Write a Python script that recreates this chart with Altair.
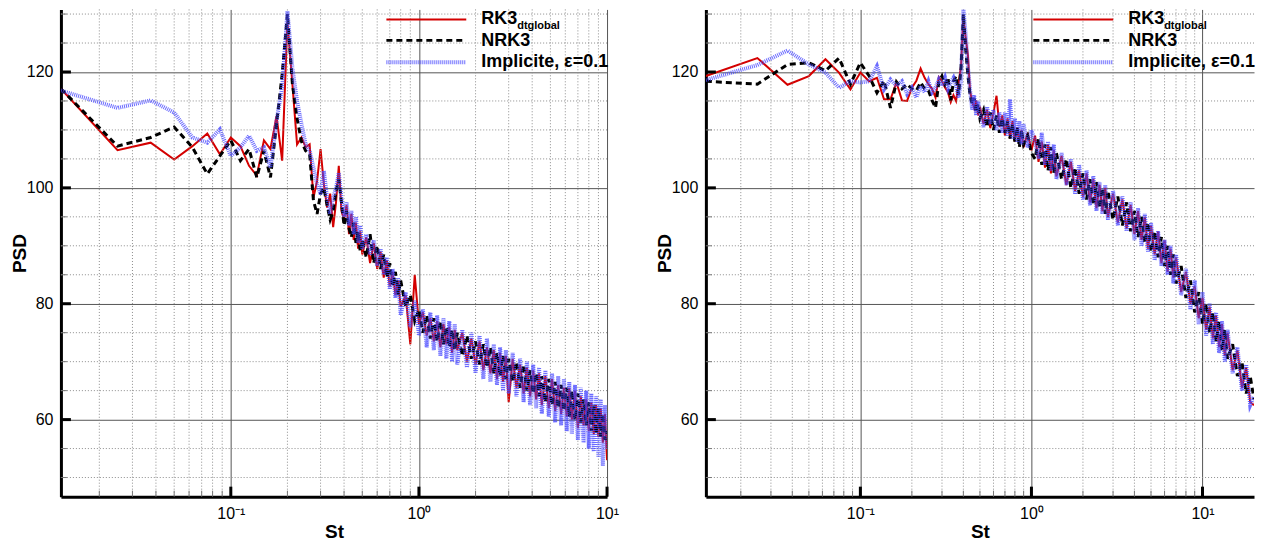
import altair as alt
import pandas as pd

FONT = "Liberation Sans"

# ---------------- left panel data ----------------
L_ST = [0.0125, 0.025, 0.0375, 0.05, 0.0625, 0.075, 0.0875, 0.1, 0.1125, 0.125,
        0.1375, 0.15, 0.1625, 0.175, 0.1875, 0.2, 0.2125, 0.225, 0.2375, 0.25,
        0.2625, 0.275, 0.2875, 0.3, 0.3125, 0.325, 0.3375, 0.35, 0.3625, 0.375,
        0.3875, 0.4, 0.4125, 0.425, 0.4375, 0.45, 0.4625, 0.475, 0.4875, 0.5,
        0.525, 0.55, 0.575, 0.6, 0.625, 0.65, 0.675, 0.7, 0.725, 0.75,
        0.775, 0.8, 0.85, 0.9, 0.95, 1.0,
        1.05, 1.1, 1.15, 1.2, 1.25, 1.3, 1.35, 1.4, 1.45, 1.5,
        1.55, 1.6, 1.7, 1.8, 1.9, 2.0, 2.1, 2.2, 2.3, 2.4,
        2.5, 2.6, 2.7, 2.8, 2.9, 3.0, 3.15, 3.3, 3.45, 3.6,
        3.75, 3.9, 4.05, 4.2, 4.35, 4.5, 4.7, 4.9, 5.1, 5.3,
        5.5, 5.7, 5.9, 6.1, 6.3, 6.5, 6.75, 7.0, 7.25, 7.5,
        7.75, 8.0, 8.25, 8.5, 8.75, 9.0, 9.25, 9.5, 9.75, 10.0]

L_RK3 = [117.1, 106.5, 107.8, 104.9, 107.2, 109.4, 105.8, 108.7, 107.2, 103.8,
         102.1, 108.2, 106.7, 112.4, 104.7, 128.6, 117.9, 107.5, 108.7, 107.0,
         107.5, 98.3, 101.2, 106.7, 100.6, 96.6, 99.0, 93.2, 97.5, 103.8,
         96.0, 94.5, 97.0, 92.0, 95.5, 91.0, 94.0, 89.5, 92.5, 88.5,
         91.5, 87.0, 90.5, 86.0, 89.0, 84.5, 87.5, 83.0, 85.5, 81.5,
         84.0, 79.5, 81.5, 73.0, 85.0, 76.5,
         78.5, 74.5, 77.5, 73.5, 77.0, 72.5, 76.5, 73.0, 76.0, 71.5,
         75.5, 72.0, 75.0, 70.0, 74.0, 69.5, 73.5, 68.5, 72.5, 68.0,
         72.0, 67.0, 71.5, 66.5, 71.0, 63.0, 70.5, 65.5, 69.5, 64.5,
         69.0, 64.0, 68.5, 63.5, 68.0, 62.5, 67.5, 62.0, 67.0, 61.5,
         66.0, 61.0, 65.5, 60.5, 65.5, 60.0, 65.0, 58.5, 64.0, 59.0,
         63.5, 58.0, 63.0, 57.5, 62.5, 57.0, 62.0, 56.0, 61.0, 53.0]

L_NRK3 = [117.1, 107.2, 108.7, 110.5, 107.0, 102.4, 105.5, 108.2, 104.7, 106.7,
          101.8, 106.4, 101.8, 111.0, 119.6, 130.0, 118.0, 112.0, 108.0, 106.4,
          105.8, 97.8, 95.5, 99.0, 100.0, 97.0, 94.5, 96.0, 99.5, 101.5,
          97.5, 93.5, 96.0, 93.0, 91.5, 94.0, 90.5, 92.5, 89.0, 91.0,
          88.0, 92.0, 87.0, 90.0, 86.0, 88.5, 84.5, 87.0, 83.0, 85.5,
          81.5, 84.0, 79.5, 81.5, 77.0, 79.0,
          75.0, 78.0, 74.0, 77.5, 73.5, 77.0, 73.0, 76.0, 72.5, 75.5,
          72.0, 75.0, 71.0, 74.5, 70.5, 73.5, 69.5, 73.0, 69.0, 72.5,
          68.0, 71.5, 67.5, 71.0, 67.0, 70.5, 66.5, 70.0, 65.5, 69.5,
          65.0, 68.5, 64.5, 68.0, 64.0, 67.5, 63.0, 67.0, 62.5, 66.5,
          62.0, 66.0, 61.5, 65.5, 60.5, 65.0, 60.0, 64.5, 59.5, 63.5,
          59.0, 63.0, 58.0, 62.5, 57.5, 62.0, 57.0, 61.0, 56.5, 58.0]

L_IMP = [116.8, 113.8, 115.1, 113.0, 108.7, 107.8, 110.1, 105.5, 107.0, 109.0,
         106.4, 107.0, 103.5, 111.6, 117.3, 130.5, 120.7, 115.0, 111.0, 107.5,
         106.4, 103.5, 100.6, 98.9, 102.9, 98.3, 95.5, 98.3, 100.0, 102.6,
         98.3, 95.0, 97.5, 93.5, 96.0, 92.0, 95.0, 90.5, 93.5, 89.5,
         92.0, 88.5, 91.0, 86.5, 89.5, 85.0, 88.0, 82.5, 86.0, 81.0,
         84.5, 78.0, 82.0, 76.0, 80.5, 74.5,
         79.0, 72.5, 78.5, 72.0, 78.0, 71.0, 77.5, 70.5, 77.0, 70.0,
         76.5, 69.5, 75.5, 69.0, 75.0, 68.0, 74.5, 67.0, 74.0, 66.5,
         73.0, 66.0, 72.5, 65.0, 72.0, 64.5, 71.5, 64.0, 70.5, 63.0,
         70.0, 62.5, 69.5, 62.0, 69.0, 61.0, 68.5, 60.5, 68.0, 59.5,
         67.5, 59.0, 67.0, 58.0, 66.5, 57.5, 66.0, 56.5, 65.5, 56.0,
         65.0, 55.0, 64.5, 54.5, 64.0, 53.5, 63.5, 52.0, 62.5, 55.0]

# ---------------- right panel data ----------------
R_ST = [0.0125, 0.025, 0.0375, 0.05, 0.0625, 0.075, 0.0875, 0.1, 0.1125, 0.125,
        0.1375, 0.15, 0.1625, 0.175, 0.1875, 0.2, 0.2125, 0.225, 0.2375, 0.25,
        0.2625, 0.275, 0.2875, 0.3, 0.3125, 0.325, 0.3375, 0.35, 0.3625, 0.375,
        0.3875, 0.4, 0.4125, 0.425, 0.4375, 0.45, 0.4625, 0.475, 0.4875, 0.5,
        0.525, 0.55, 0.575, 0.6, 0.625, 0.65, 0.675, 0.7, 0.725, 0.75,
        0.775, 0.8, 0.825, 0.85, 0.875, 0.9, 0.95, 1.0,
        1.05, 1.1, 1.15, 1.2, 1.25, 1.3, 1.35, 1.4, 1.5, 1.6,
        1.7, 1.8, 1.9, 2.0, 2.1, 2.2, 2.3, 2.4, 2.5, 2.6,
        2.7, 2.8, 3.0, 3.2, 3.4, 3.6, 3.8, 4.0, 4.2, 4.4,
        4.6, 4.8, 5.0, 5.25, 5.5, 5.75, 6.0, 6.25, 6.5, 6.75,
        7.0, 7.5, 8.0, 8.5, 9.0, 9.5, 10.0, 10.5, 11.0, 11.5,
        12.0, 12.5, 13.0, 13.5, 14.0, 15.0, 16.0, 17.0, 18.0, 19.0, 20.0]

R_RK3 = [119.3, 122.4, 117.8, 119.3, 122.2, 119.9, 117.0, 119.9, 118.4, 119.0,
         115.3, 115.3, 118.2, 115.1, 115.0, 117.3, 118.5, 120.6, 119.0, 117.9,
         117.1, 115.6, 119.1, 118.4, 117.3, 116.5, 114.8, 116.0, 115.0, 118.0,
         121.0, 129.5, 125.9, 123.0, 116.7, 115.0, 113.8, 115.1, 112.5, 114.0,
         111.0, 113.5, 110.3, 113.0, 115.9, 110.5, 112.5, 109.0, 112.0, 108.5,
         111.5, 108.0, 110.5, 107.5, 110.0, 107.0, 109.5, 106.5,
         109.0, 104.5, 108.0, 103.5, 107.5, 102.5, 106.5, 102.0, 105.5, 100.5,
         104.5, 99.5, 103.0, 98.5, 102.5, 97.5, 101.5, 96.5, 100.5, 96.0,
         100.0, 95.0, 99.0, 94.0, 98.0, 93.0, 97.0, 92.0, 96.0, 91.0,
         95.0, 89.5, 93.5, 88.5, 92.5, 87.0, 91.0, 85.5, 89.5, 84.5,
         88.0, 82.0, 85.5, 80.0, 83.0, 77.5, 81.0, 75.5, 79.5, 74.0,
         78.0, 72.5, 76.5, 71.0, 75.0, 68.5, 72.0, 65.5, 69.0, 63.0, 62.5]

R_NRK3 = [118.4, 117.9, 121.3, 121.6, 120.2, 122.4, 117.9, 121.6, 119.3, 116.4,
          118.5, 113.8, 118.3, 117.1, 117.9, 117.1, 116.8, 118.2, 117.1, 116.8,
          115.1, 113.8, 118.2, 119.3, 117.9, 119.1, 115.1, 118.4, 119.3, 116.1,
          120.6, 130.0, 124.0, 119.5, 116.0, 114.5, 115.5, 113.0, 114.5, 112.0,
          113.5, 110.5, 113.0, 110.0, 112.5, 109.5, 112.0, 109.5, 111.5, 108.5,
          111.0, 108.0, 110.5, 107.0, 110.0, 107.5, 109.0, 106.0,
          105.0, 108.5, 104.0, 107.5, 103.0, 107.0, 102.5, 106.0, 101.5, 105.0,
          100.0, 103.5, 99.0, 102.5, 98.0, 101.5, 97.0, 101.0, 96.5, 100.0,
          95.5, 99.5, 94.5, 98.5, 93.5, 97.5, 92.5, 96.0, 91.5, 95.0,
          90.5, 94.0, 89.0, 92.5, 88.0, 91.5, 86.5, 90.0, 85.0, 88.5,
          83.5, 86.5, 81.0, 84.0, 78.5, 82.0, 76.5, 80.0, 75.0, 78.5,
          73.5, 77.0, 72.0, 75.5, 70.5, 73.0, 67.5, 70.0, 64.5, 67.5, 63.5]

R_IMP = [118.6, 121.2, 123.7, 121.3, 119.9, 117.3, 118.4, 118.2, 118.4, 121.0,
         117.0, 118.7, 117.6, 118.4, 116.2, 117.3, 115.6, 117.6, 116.5, 118.4,
         116.5, 117.3, 118.7, 117.6, 119.0, 117.1, 118.2, 119.0, 117.6, 115.6,
         118.4, 131.0, 126.5, 121.0, 117.0, 113.5, 116.0, 112.5, 115.0, 113.0,
         110.5, 114.0, 111.0, 113.5, 110.0, 113.0, 109.5, 113.0, 109.0, 115.3,
         108.5, 112.0, 108.0, 111.5, 107.5, 111.0, 107.0, 110.0,
         108.0, 105.0, 109.5, 104.0, 108.0, 103.0, 107.5, 101.5, 106.0, 100.5,
         105.0, 99.0, 104.0, 98.0, 103.0, 97.0, 102.0, 96.0, 101.0, 95.5,
         100.5, 94.5, 99.5, 93.5, 98.5, 92.5, 97.5, 91.0, 96.5, 90.0,
         95.5, 89.0, 94.0, 87.5, 92.5, 86.5, 91.0, 85.0, 90.0, 83.5,
         88.5, 81.5, 86.0, 79.0, 84.0, 76.5, 82.0, 74.5, 80.0, 73.0,
         78.5, 71.5, 77.0, 70.0, 75.5, 68.0, 72.5, 65.0, 69.5, 62.5, 64.0]

# ---------------- axes / grid values ----------------
X_MAJOR = [0.1, 1, 10]
X_MINOR = [0.02, 0.03, 0.04, 0.05, 0.06, 0.07, 0.08, 0.09,
           0.2, 0.3, 0.4, 0.5, 0.6, 0.7, 0.8, 0.9,
           2, 3, 4, 5, 6, 7, 8, 9]
Y_MAJOR = [60, 80, 100, 120]
Y_MINOR = [50, 55, 65, 70, 75, 85, 90, 95, 105, 110, 115, 125, 130]
LEGEND = ["RK3", "dtglobal", "NRK3", "Implicite, \u03b5=0.1"]

X_MIN = 0.0125
Y_DOMAIN = [46.7, 130.8]
H = 488

RED = "#d40000"
BLUE = "#4646ff"
ONE = pd.DataFrame({"k": [0]})


def panel(st, rk3, nrk3, imp, xmax, width):
    xs = alt.Scale(type="log", domain=[X_MIN, xmax], nice=False)
    ys = alt.Scale(domain=Y_DOMAIN, nice=False, zero=False)
    x_axis = alt.Axis(
        values=X_MAJOR, grid=True, gridColor="#555555", gridWidth=1, ticks=False,
        domainColor="black", domainWidth=3,
        labelExpr="datum.value < 0.5 ? '10\u207b\u00b9' : (datum.value < 5 ? '10\u2070' : '10\u00b9')",
        labelFont=FONT, labelFontSize=16, labelColor="black", labelPadding=9,
        labelFlush=False, title="St", titleFont=FONT, titleFontSize=19,
        titleFontWeight="bold", titleColor="black", titlePadding=1)
    y_axis = alt.Axis(
        values=Y_MAJOR, grid=True, gridColor="#555555", gridWidth=1, ticks=False,
        domainColor="black", domainWidth=3,
        labelFont=FONT, labelFontSize=16, labelColor="black", labelPadding=8,
        minExtent=31, maxExtent=31,
        title="PSD", titleFont=FONT, titleFontSize=19, titleFontWeight="bold",
        titleColor="black", titlePadding=0.5)

    def X(f):
        return alt.X(f, scale=xs, axis=x_axis, title="St")

    def Y(f):
        return alt.Y(f, scale=ys, axis=y_axis, title="PSD")

    minor_x = pd.DataFrame({"v": [v for v in X_MINOR if v < xmax]})
    minor_y = pd.DataFrame({"v": Y_MINOR})
    major_x = pd.DataFrame({"v": X_MAJOR})
    major_y = pd.DataFrame({"v": Y_MAJOR})

    gx = alt.Chart(minor_x).mark_rule(color="#8c8c8c", strokeWidth=1, strokeDash=[1, 2]).encode(
        x=X("v:Q"))
    gy = alt.Chart(minor_y).mark_rule(color="#8c8c8c", strokeWidth=1, strokeDash=[1, 2]).encode(
        y=Y("v:Q"))
    tx = alt.Chart(minor_x).mark_rule(color="#777777", strokeWidth=1).encode(
        x=X("v:Q"), y=alt.value(H), y2=alt.value(H - 6))
    ty = alt.Chart(minor_y).mark_rule(color="#777777", strokeWidth=1).encode(
        y=Y("v:Q"), x=alt.value(0), x2=alt.value(6))
    mx = alt.Chart(major_x).mark_rule(color="black", strokeWidth=3).encode(
        x=X("v:Q"), y=alt.value(H), y2=alt.value(H - 10))
    my = alt.Chart(major_y).mark_rule(color="black", strokeWidth=3).encode(
        y=Y("v:Q"), x=alt.value(0), x2=alt.value(10))

    d_r = pd.DataFrame({"St": st, "PSD": rk3})
    d_n = pd.DataFrame({"St": st, "PSD": nrk3})
    d_i = pd.DataFrame({"St": st, "PSD": imp})

    red = alt.Chart(d_r).mark_line(color=RED, strokeWidth=2, clip=True).encode(
        x=X("St:Q"), y=Y("PSD:Q"))
    blk = alt.Chart(d_n).mark_line(color="black", strokeWidth=3, strokeDash=[6, 4], clip=True).encode(
        x=X("St:Q"), y=Y("PSD:Q"))
    blu = alt.Chart(d_i).mark_line(color=BLUE, strokeWidth=4, strokeDash=[1, 1], opacity=0.8,
                                   clip=True).encode(
        x=X("St:Q"), y=Y("PSD:Q"))

    lx1, lx2, tx0 = width - 221, width - 141, width - 126
    leg_r = alt.Chart(ONE).mark_rule(color=RED, strokeWidth=2).encode(
        x=alt.value(lx1), x2=alt.value(lx2), y=alt.value(10))
    leg_n = alt.Chart(ONE).mark_rule(color="black", strokeWidth=3, strokeDash=[6, 4]).encode(
        x=alt.value(lx1), x2=alt.value(lx2), y=alt.value(31))
    leg_i = alt.Chart(ONE).mark_rule(color=BLUE, strokeWidth=4, strokeDash=[1, 1], opacity=0.8).encode(
        x=alt.value(lx1), x2=alt.value(lx2), y=alt.value(53))

    def txt(s, x, y, size):
        return alt.Chart(ONE).mark_text(text=s, align="left", baseline="middle", font=FONT,
                                        fontSize=size, fontWeight="bold", color="black").encode(
            x=alt.value(x), y=alt.value(y))

    t1 = txt(LEGEND[0], tx0, 9.5, 18)
    t1s = txt(LEGEND[1], tx0 + 36, 17, 11)
    t2 = txt(LEGEND[2], tx0, 31.5, 18)
    t3 = txt(LEGEND[3], tx0, 53, 18)

    return alt.layer(red, gx, gy, tx, ty, blk, blu, mx, my,
                     leg_r, leg_n, leg_i, t1, t1s, t2, t3).properties(width=width, height=H)


left = panel(L_ST, L_RK3, L_NRK3, L_IMP, 10, 547)
right = panel(R_ST, R_RK3, R_NRK3, R_IMP, 20, 549)

chart = alt.hconcat(left, right, spacing=99, bounds="flush").properties(
    padding={"left": 2, "top": 0, "right": 2, "bottom": 2},
    background="white",
).configure_view(stroke=None)

chart.save("out.html", embed_options={"renderer": "svg", "actions": False})
